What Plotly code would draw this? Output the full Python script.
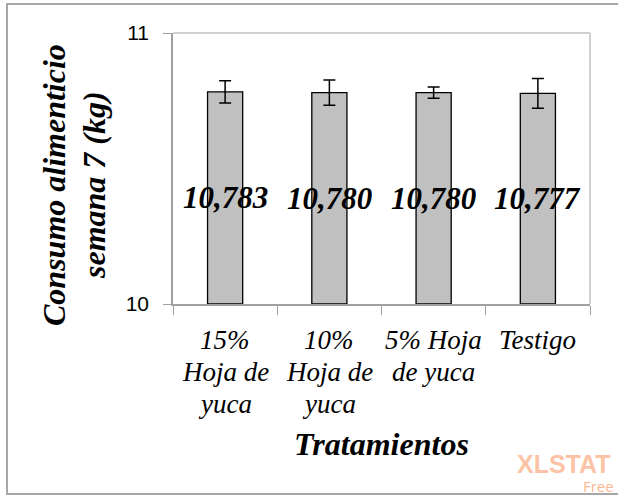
import plotly.graph_objects as go

categories = ["15%<br>Hoja de<br>yuca", "10%<br>Hoja de<br>yuca", "5% Hoja<br>de yuca", "Testigo"]
values = [10.783, 10.780, 10.780, 10.777]
errors = [0.041, 0.047, 0.021, 0.055]
y_ticks = [10, 11]
y_range = [10, 11]
y_title_lines = ["Consumo alimenticio", "semana 7 (kg)"]
x_title = "Tratamientos"

W, H = 618, 497
L, R, T, B = 173, 28, 33, 193
pw, ph = W - L - R, H - T - B

def px_x(x):
    return (x - L) / pw

def px_y(y):
    return (H - B - y) / ph

serif = "Liberation Serif, Times New Roman, serif"

fig = go.Figure()
fig.add_trace(go.Bar(
    x=categories, y=[v - y_range[0] for v in values], base=y_range[0],
    marker=dict(color="#C0C0C0", line=dict(color="black", width=1.3)),
    error_y=dict(type="data", array=errors, color="black", thickness=1.5, width=6),
    hoverinfo="skip",
))

for c, v in zip(categories, values):
    fig.add_annotation(
        x=c, y=(y_range[0] + v) / 2, xref="x", yref="y", xanchor="center", yanchor="middle",
        text=f"{v:.3f}".replace(".", ","), showarrow=False,
        font=dict(family=serif, size=31, color="black", weight="bold", style="italic"),
    )

# category labels, one annotation per line for Excel-like line spacing
for c in categories:
    for i, line in enumerate(c.split("<br>")):
        fig.add_annotation(
            x=c, y=px_y(340 + 32 * i), xref="x", yref="paper", xanchor="center", yanchor="middle",
            text=line, showarrow=False,
            font=dict(family=serif, size=27, color="black", style="italic"),
        )

# axis titles
for i, line in enumerate(y_title_lines):
    fig.add_annotation(
        x=px_x(54 + 40 * i), y=px_y(185), xref="paper", yref="paper",
        xanchor="center", yanchor="middle",
        text=line, textangle=-90, showarrow=False,
        font=dict(family=serif, size=32, color="black", weight="bold", style="italic"),
    )
fig.add_annotation(
    x=0.5, y=px_y(444), xref="paper", yref="paper", xanchor="center", yanchor="middle",
    text=x_title, showarrow=False,
    font=dict(family=serif, size=32, color="black", weight="bold", style="italic"),
)

# watermark
fig.add_annotation(
    x=px_x(516), y=px_y(464), xref="paper", yref="paper", xanchor="left", yanchor="middle",
    text="XLSTAT", showarrow=False, borderpad=0,
    font=dict(family="Liberation Sans, Arial, sans-serif", size=25, color="#FCC3A6", weight="bold"),
)
fig.add_annotation(
    x=px_x(582), y=px_y(486), xref="paper", yref="paper", xanchor="left", yanchor="middle",
    text="Free", showarrow=False, borderpad=0,
    font=dict(family="Open Sans, sans-serif", size=15, color="#FAB891"),
)

# outer border and plot-area top/right border
fig.add_shape(type="rect", xref="paper", yref="paper",
              x0=px_x(7), x1=px_x(640), y0=px_y(494), y1=px_y(4),
              line=dict(color="#A6A6A6", width=2), layer="below")
fig.add_shape(type="line", xref="paper", yref="paper", x0=0, x1=1, y0=1, y1=1,
              line=dict(color="#D0D0D0", width=2))
fig.add_shape(type="line", xref="paper", yref="paper", x0=1, x1=1, y0=0, y1=1,
              line=dict(color="#D0D0D0", width=2))

fig.update_layout(
    width=W, height=H,
    margin=dict(l=L, r=R, t=T, b=B, autoexpand=False),
    paper_bgcolor="white", plot_bgcolor="white",
    showlegend=False, bargap=0.663,
    xaxis=dict(
        type="category", tickson="boundaries", ticks="outside", ticklen=9, tickcolor="#A0A0A0",
        showline=True, linecolor="#A0A0A0", linewidth=1.5, showgrid=False,
        showticklabels=False,
    ),
    yaxis=dict(
        range=y_range, tickvals=y_ticks, ticktext=[str(t) for t in y_ticks],
        ticks="outside", ticklen=8, tickcolor="#A0A0A0", ticklabelstandoff=10,
        showline=True, linecolor="#A0A0A0", linewidth=1.5, showgrid=False, zeroline=False,
        tickfont=dict(family="Liberation Sans, Arial, sans-serif", size=21, color="black"),
    ),
)

fig.write_html("out.html", config={"displayModeBar": False},
               post_script="document.body.style.margin='0';")
